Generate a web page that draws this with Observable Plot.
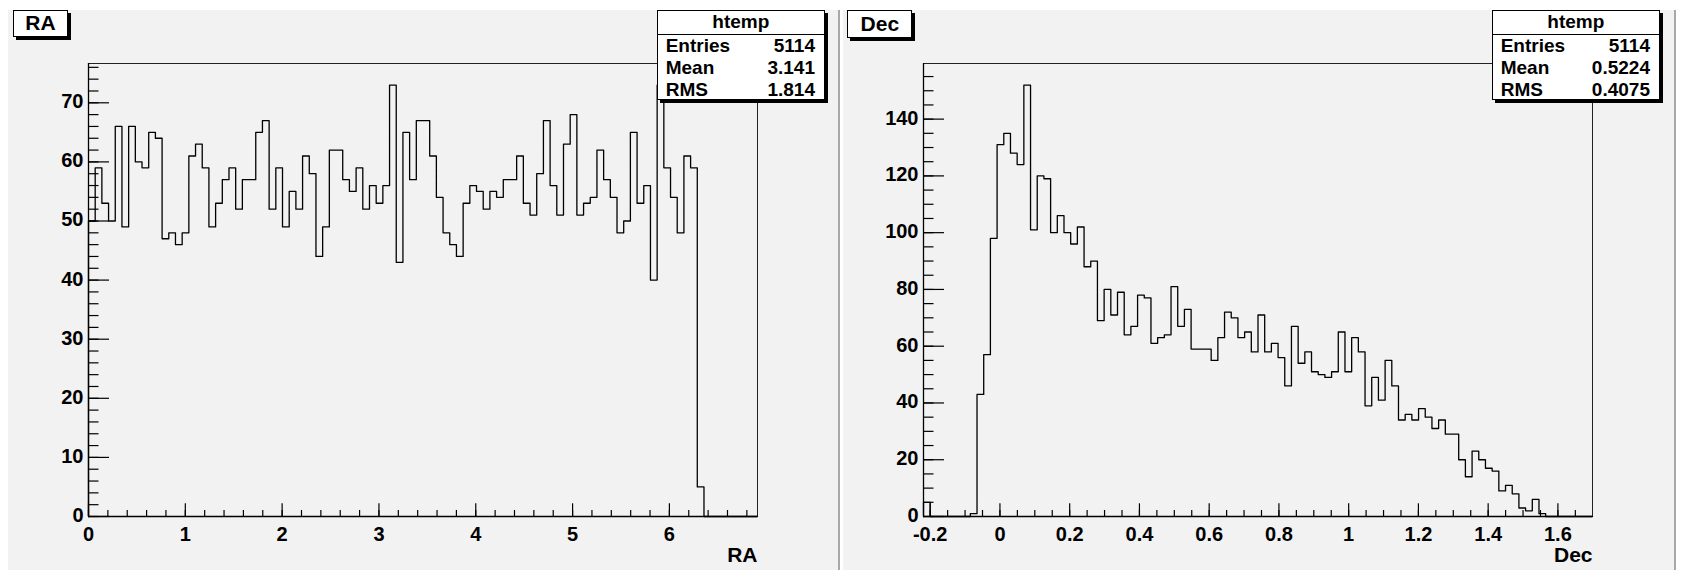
<!DOCTYPE html>
<html><head><meta charset="utf-8">
<script src="https://cdn.jsdelivr.net/npm/d3@7"></script>
<script src="https://cdn.jsdelivr.net/npm/@observablehq/plot@0.6"></script>
<style>
body{margin:0;background:#fff;font-family:"Liberation Sans",Arial,sans-serif;}
#root{position:relative;width:1685px;height:570px;overflow:hidden;background:#fff;}
.pad{position:absolute;top:10px;height:560px;background:#f2f2f2;border-right:2px solid #a8a8a8;}
.pad svg{position:absolute;left:0;top:0;}
.tbox{position:absolute;top:0;box-sizing:border-box;background:#fff;border:1px solid #000;box-shadow:3px 3px 0 #000;font-weight:bold;font-size:21px;text-align:center;z-index:2;}
.stats{position:absolute;top:0;left:648.7px;width:168.3px;height:90px;box-sizing:border-box;background:#fff;border:1px solid #000;box-shadow:3px 3px 0 #000;font-weight:bold;font-size:19px;z-index:2;}
.stats .hd{height:22.7px;line-height:22.7px;text-align:center;border-bottom:1px solid #000;}
.stats .row{display:flex;justify-content:space-between;height:22.4px;line-height:22.4px;padding:0 9px 0 8px;}
</style></head>
<body><div id="root"></div>
<script>
// ---- data ----
const raCounts = [50,59,53,50,66,49,66,60,59,65,
64,47,48,46,48,61,63,59,49,53,
57,59,52,57,57,65,67,52,59,49,
55,52,61,58,44,49,62,62,57,55,
59,52,56,53,56,73,43,65,57,67,
67,61,54,48,46,44,53,56,55,52,
55,54,57,57,61,53,51,58,67,56,
51,63,68,51,53,54,62,57,54,48,
50,65,53,56,40,73,59,54,48,61,
59,5,0,0,0,0,0,0,0,0];
const decCounts = [5,0,0,0,0,0,0,1,43,57,
98,131,135,128,124,152,101,120,119,100,
106,100,96,102,88,90,69,80,71,79,
64,67,78,77,61,63,64,81,67,73,
59,59,59,55,63,72,70,63,65,58,
71,58,61,56,46,67,54,58,51,50,
49,51,65,51,63,58,39,49,41,55,
46,34,36,34,38,35,31,34,29,29,
20,14,23,20,17,16,9,11,8,3,
2,6,1,0,0,0,0,0,0,0];
const raRange = [0, 6.91];
const decRange = [-0.2192, 1.6992];
const raYMax = 76.65;
const decYMax = 159.6;
const raXTicks = [0,1,2,3,4,5,6];
const raXLabels = ["0","1","2","3","4","5","6"];
const decXTicks = [-0.2,0,0.2,0.4,0.6,0.8,1.0,1.2,1.4,1.6];
const decXLabels = ["-0.2","0","0.2","0.4","0.6","0.8","1","1.2","1.4","1.6"];
const raYTicks = [0,10,20,30,40,50,60,70];
const raYLabels = ["0","10","20","30","40","50","60","70"];
const decYTicks = [0,20,40,60,80,100,120,140];
const decYLabels = ["0","20","40","60","80","100","120","140"];
const raStats = [["Entries","5114"],["Mean","3.141"],["RMS","1.814"]];
const decStats = [["Entries","5114"],["Mean","0.5224"],["RMS","0.4075"]];

function outline(counts, range) {
  const w = (range[1]-range[0]) / counts.length;
  const pts = [{x: range[0], y: 0}];
  counts.forEach((c, i) => pts.push({x: range[0] + i*w, y: c}));
  pts.push({x: range[1], y: 0});
  return pts;
}

function panel(o) {
  const fmt = (ticks, labels) => d => { const i = ticks.findIndex(t => Math.abs(t-d) < 1e-9); return i >= 0 ? labels[i] : ""; };
  return Plot.plot({
    width: o.width, height: 560,
    marginLeft: 80, marginRight: o.width - 80 - 669, marginTop: 53, marginBottom: 54,
    style: {background: "transparent", fontFamily: '"Liberation Sans", Arial, sans-serif', fontSize: "20px", fontWeight: "bold", color: "#000", overflow: "visible"},
    x: {domain: o.range},
    y: {domain: [0, o.ymax]},
    marks: [
      Plot.frame({stroke: "#222", strokeWidth: 1}),
      Plot.axisX(o.xMinor, {tickSize: -6, tickFormat: () => "", label: null, strokeWidth: 1.2}),
      Plot.axisX(o.xTicks, {tickSize: -12.7, tickFormat: () => "", label: null, strokeWidth: 1.2}),
      Plot.axisX(o.xTicks, {tickSize: 0, tickPadding: 10, tickFormat: fmt(o.xTicks, o.xLabels), label: null, fontSize: 20}),
      Plot.axisY(o.yMinor, {tickSize: -10.5, tickFormat: () => "", label: null, strokeWidth: 1.2}),
      Plot.axisY(o.yTicks, {tickSize: -21, tickFormat: () => "", label: null, strokeWidth: 1.2}),
      Plot.axisY(o.yTicks, {tickSize: 0, tickPadding: 5, dy: -1, tickFormat: fmt(o.yTicks, o.yLabels), label: null, fontSize: 20}),
      Plot.ruleX([o.range[0]], {stroke: "#000", strokeWidth: 1.3}),
      Plot.ruleY([0], {stroke: "#000", strokeWidth: 1.3}),
      Plot.line(outline(o.counts, o.range), {x: "x", y: "y", curve: "step-after", stroke: "#000", strokeWidth: 1.3}),
      Plot.text([o.title], {frameAnchor: "bottom-right", textAnchor: "end", lineAnchor: "middle", dy: 39, fontSize: 21, fontWeight: "bold"})
    ]
  });
}

function makePad(left, width, opts, title, titleBox, stats) {
  const pad = document.createElement("div");
  pad.className = "pad";
  pad.style.left = left + "px";
  pad.style.width = width + "px";
  pad.appendChild(panel(Object.assign({width, title}, opts)));
  const tb = document.createElement("div");
  tb.className = "tbox";
  tb.style.left = titleBox[0] + "px";
  tb.style.width = titleBox[1] + "px";
  tb.style.height = titleBox[2] + "px";
  tb.style.lineHeight = (titleBox[2]-2) + "px";
  tb.textContent = title;
  pad.appendChild(tb);
  const sb = document.createElement("div");
  sb.className = "stats";
  const hd = document.createElement("div"); hd.className = "hd"; hd.textContent = "htemp"; sb.appendChild(hd);
  stats.forEach(([k, v]) => {
    const r = document.createElement("div"); r.className = "row";
    const a = document.createElement("span"); a.textContent = k;
    const b = document.createElement("span"); b.textContent = v;
    r.appendChild(a); r.appendChild(b); sb.appendChild(r);
  });
  pad.appendChild(sb);
  document.getElementById("root").appendChild(pad);
}

makePad(8, 830, {
  counts: raCounts, range: raRange, ymax: raYMax,
  xTicks: raXTicks, xLabels: raXLabels, xMinor: d3.range(0, 6.91, 0.2),
  yTicks: raYTicks, yLabels: raYLabels, yMinor: d3.range(0, 77, 2)
}, "RA", [4.7, 55.6, 26.7], raStats);

makePad(843, 831, {
  counts: decCounts, range: decRange, ymax: decYMax,
  xTicks: decXTicks, xLabels: decXLabels, xMinor: d3.range(-0.2, 1.7, 0.05),
  yTicks: decYTicks, yLabels: decYLabels, yMinor: d3.range(0, 159, 5)
}, "Dec", [4.3, 65, 28], decStats);
</script>
</body></html>
